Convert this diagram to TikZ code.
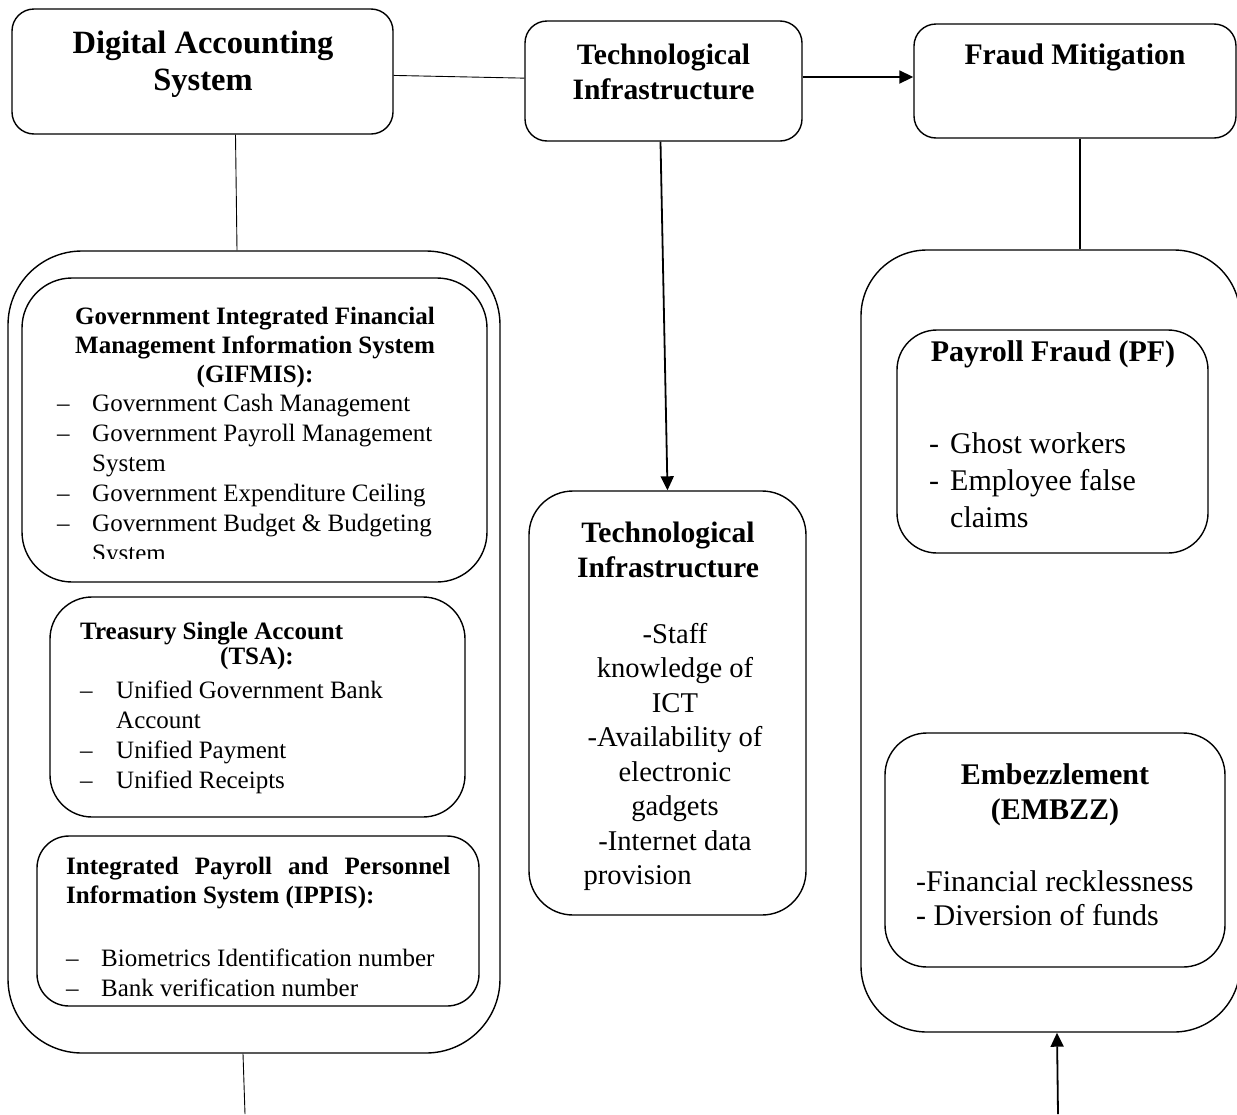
\documentclass[tikz,border=0pt]{standalone}
\usepackage{fontspec}
\setmainfont{Liberation Serif}
\usetikzlibrary{arrows.meta}

\newcommand{\itm}[2]{\makebox[#1][l]{–}#2}
\newcommand{\fsz}[2]{\fontsize{#1}{#2}\selectfont}

\tikzset{
    box/.style={draw, line width=1.4pt, inner sep=0pt},
    conn/.style={line width=0.9pt},
    arr/.style={line width=1.8pt, -{Triangle[length=14pt,width=13pt]}},
    head/.style={align=center, inner sep=0pt},
    body/.style={align=left, inner sep=0pt, anchor=west},
}

\begin{document}
\begin{tikzpicture}[x=1pt, y=-1pt]
        \useasboundingbox (0,0) rectangle (1237,1114);

        % top row
        \node[box, rounded corners=22pt, minimum width=381pt, minimum height=125pt] (das) at (202.5,71.5) {};
        \node[box, rounded corners=22pt, minimum width=277pt, minimum height=120pt] (ti) at (663.5,81) {};
        \node[box, rounded corners=22pt, minimum width=322pt, minimum height=114pt] (fm) at (1075,81) {};
        \node[head, font=\bfseries\fsz{32.5}{37}] (das-t) at (203,64) {Digital Accounting\\System};
        \node[head, font=\bfseries\fsz{29.6}{35}] (ti-t) at (663.5,72) {Technological\\Infrastructure};
        \node[head, font=\bfseries\fsz{29.8}{35}] (fm-t) at (1075,57) {Fraud Mitigation};

        % left column
        \node[box, rounded corners=74pt, minimum width=492pt, minimum height=802pt] (lout) at (254,652) {};
        \node[box, rounded corners=50pt, minimum width=465pt, minimum height=304pt] (gif) at (254.5,430) {};
        \node[box, rounded corners=42pt, minimum width=415pt, minimum height=220pt] (tsa) at (257.5,707) {};
        \node[box, rounded corners=32pt, minimum width=442pt, minimum height=170pt] (ipp) at (258,921) {};

        \node[head, font=\bfseries\fsz{25}{29}] (gif-t) at (255,347)
            {Government Integrated Financial\\Management Information System\\(GIFMIS):};
        \begin{scope}
            \clip (22,278) rectangle (487,558);
            \node[body, font=\fsz{25}{30}] (gif-l) at (57,481)
                {\itm{35pt}{Government Cash Management}\\
                 \itm{35pt}{Government Payroll Management}\\
                 \hspace*{35pt}System\\
                 \itm{35pt}{Government Expenditure Ceiling}\\
                 \itm{35pt}{Government Budget \& Budgeting}\\
                 \hspace*{35pt}System};
        \end{scope}

        \node[body, font=\bfseries\fsz{25}{25}] (tsa-t) at (80,645.5)
            {Treasury Single Account\\\hspace*{140pt}(TSA):};
        \node[body, font=\fsz{25}{30}] (tsa-l) at (80,737)
            {\itm{36pt}{Unified Government Bank}\\
             \hspace*{36pt}Account\\
             \itm{36pt}{Unified Payment}\\
             \itm{36pt}{Unified Receipts}};

        \node[body, font=\bfseries\fsz{25}{29}] (ipp-t) at (66,883.5)
            {\makebox[384pt][s]{Integrated Payroll and Personnel}\\Information System (IPPIS):};
        \node[body, font=\fsz{25}{30}] (ipp-l) at (66,973)
            {\itm{35pt}{Biometrics Identification number}\\
             \itm{35pt}{Bank verification number}};

        % middle column
        \node[box, rounded corners=44pt, minimum width=277pt, minimum height=424pt] (mid) at (667.5,703) {};
        \node[head, font=\bfseries\fsz{29.6}{35}] (mid-t) at (668,549.5) {Technological\\Infrastructure};
        \node[head, font=\fsz{28.6}{34.5}] (mid-l) at (675,757)
            {-Staff\\knowledge of\\ICT\\-Availability of\\electronic\\gadgets\\-Internet data\\\makebox[183pt][l]{provision}};

        % right column
        \node[box, rounded corners=66pt, minimum width=379pt, minimum height=782pt] (rout) at (1050.5,641) {};
        \node[box, rounded corners=40pt, minimum width=311pt, minimum height=223pt] (pf) at (1052.5,441.5) {};
        \node[box, rounded corners=42pt, minimum width=340pt, minimum height=234pt] (emb) at (1055,850) {};

        \node[head, font=\bfseries\fsz{30}{35}] (pf-t) at (1053,354) {Payroll Fraud (PF)};
        \node[body, font=\fsz{30}{37}] (pf-l) at (929,480)
            {\makebox[21pt][l]{-}Ghost workers\\\makebox[21pt][l]{-}Employee false\\\hspace*{21pt}claims};
        \node[head, font=\bfseries\fsz{30}{35}] (emb-t) at (1055,794.5) {Embezzlement\\(EMBZZ)};
        \node[body, font=\fsz{30}{34}] (emb-l) at (916,898)
            {-Financial recklessness\\- Diversion of funds};

        % connectors
        \coordinate (lend) at (245,1114);
        \coordinate (rend) at (1058,1114);
        \draw[conn] (das) -- (ti);
        \draw[arr] ([yshift=4pt]ti.east) -- ([yshift=4pt]fm.west);
        \draw[conn] ([xshift=33pt]das.south) -- ([xshift=-17pt]lout.north);
        \draw[arr] ([xshift=-3pt]ti.south) -- (mid.north);
        \draw[conn, line width=1.3pt] ([xshift=5pt]fm.south) -- ([xshift=29.5pt]rout.north);
        \draw[conn] ([xshift=-11pt]lout.south) -- (lend);
        \draw[arr] (rend) -- ([xshift=6.5pt]rout.south);
\end{tikzpicture}
\end{document}
